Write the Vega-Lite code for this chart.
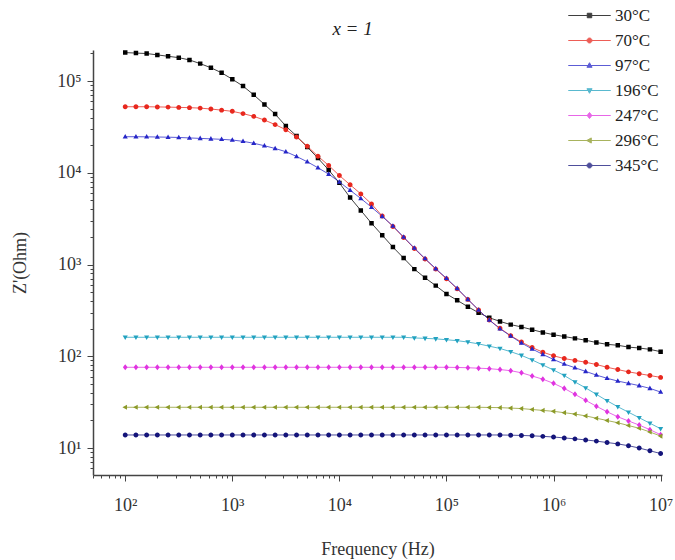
{
  "$schema": "https://vega.github.io/schema/vega-lite/v6.json",
  "width": 569,
  "height": 425,
  "autosize": "none",
  "padding": {"left": 93, "top": 50, "right": 13, "bottom": 85},
  "background": "white",
  "config": {"view": {"stroke": null}, "font": "Liberation Serif"},
  "title": {"text": "x = 1", "frame": "group", "anchor": "middle", "dx": -25, "offset": -32, "fontSize": 19, "font": "Liberation Serif", "fontWeight": "normal", "fontStyle": "italic", "color": "#222"},
  "data": {"values": [
    {"f": 100, "30°C": 204200, "70°C": 52480, "97°C": 24720, "196°C": 161.1, "247°C": 75.86, "296°C": 27.8, "345°C": 13.87},
    {"f": 125.9, "30°C": 201800, "70°C": 52480, "97°C": 24720, "196°C": 161.1, "247°C": 75.86, "296°C": 27.8, "345°C": 13.87},
    {"f": 158.5, "30°C": 199500, "70°C": 52480, "97°C": 24660, "196°C": 161.1, "247°C": 75.86, "296°C": 27.8, "345°C": 13.87},
    {"f": 199.5, "30°C": 192800, "70°C": 52240, "97°C": 24550, "196°C": 161.1, "247°C": 75.86, "296°C": 27.8, "345°C": 13.87},
    {"f": 251.2, "30°C": 186200, "70°C": 52000, "97°C": 24430, "196°C": 161.1, "247°C": 75.86, "296°C": 27.8, "345°C": 13.87},
    {"f": 316.2, "30°C": 179900, "70°C": 51640, "97°C": 24270, "196°C": 161.1, "247°C": 75.86, "296°C": 27.8, "345°C": 13.87},
    {"f": 398.1, "30°C": 169800, "70°C": 51290, "97°C": 23990, "196°C": 161.1, "247°C": 75.86, "296°C": 27.8, "345°C": 13.87},
    {"f": 501.2, "30°C": 154900, "70°C": 50700, "97°C": 23710, "196°C": 161.1, "247°C": 75.86, "296°C": 27.8, "345°C": 13.87},
    {"f": 631, "30°C": 139600, "70°C": 49550, "97°C": 23440, "196°C": 161.1, "247°C": 75.86, "296°C": 27.8, "345°C": 13.87},
    {"f": 794.3, "30°C": 123000, "70°C": 48190, "97°C": 23170, "196°C": 161.1, "247°C": 75.86, "296°C": 27.8, "345°C": 13.87},
    {"f": 1000, "30°C": 104700, "70°C": 46770, "97°C": 22750, "196°C": 161.1, "247°C": 75.86, "296°C": 27.8, "345°C": 13.87},
    {"f": 1259, "30°C": 88100, "70°C": 44160, "97°C": 22030, "196°C": 161.1, "247°C": 75.86, "296°C": 27.8, "345°C": 13.87},
    {"f": 1585, "30°C": 70790, "70°C": 41210, "97°C": 20990, "196°C": 161.1, "247°C": 75.86, "296°C": 27.8, "345°C": 13.87},
    {"f": 1995, "30°C": 55590, "70°C": 37580, "97°C": 19720, "196°C": 161.1, "247°C": 75.86, "296°C": 27.8, "345°C": 13.87},
    {"f": 2512, "30°C": 43650, "70°C": 33500, "97°C": 18410, "196°C": 161.1, "247°C": 75.86, "296°C": 27.8, "345°C": 13.87},
    {"f": 3162, "30°C": 32360, "70°C": 29510, "97°C": 16980, "196°C": 161.1, "247°C": 75.86, "296°C": 27.8, "345°C": 13.87},
    {"f": 3981, "30°C": 25120, "70°C": 24550, "97°C": 15070, "196°C": 161.1, "247°C": 75.86, "296°C": 27.8, "345°C": 13.87},
    {"f": 5012, "30°C": 19050, "70°C": 19500, "97°C": 13180, "196°C": 161.1, "247°C": 75.86, "296°C": 27.8, "345°C": 13.87},
    {"f": 6310, "30°C": 14450, "70°C": 15140, "97°C": 11350, "196°C": 161.1, "247°C": 75.86, "296°C": 27.8, "345°C": 13.87},
    {"f": 7943, "30°C": 10720, "70°C": 12020, "97°C": 9661, "196°C": 161.1, "247°C": 75.86, "296°C": 27.8, "345°C": 13.87},
    {"f": 10000, "30°C": 7762, "70°C": 9333, "97°C": 7943, "196°C": 161.1, "247°C": 75.86, "296°C": 27.8, "345°C": 13.87},
    {"f": 12590, "30°C": 5370, "70°C": 7413, "97°C": 6457, "196°C": 161.1, "247°C": 75.86, "296°C": 27.8, "345°C": 13.87},
    {"f": 15850, "30°C": 3890, "70°C": 5888, "97°C": 5248, "196°C": 161.1, "247°C": 75.86, "296°C": 27.8, "345°C": 13.87},
    {"f": 19950, "30°C": 2818, "70°C": 4571, "97°C": 4217, "196°C": 161.1, "247°C": 75.86, "296°C": 27.8, "345°C": 13.87},
    {"f": 25120, "30°C": 2089, "70°C": 3388, "97°C": 3350, "196°C": 161.1, "247°C": 75.86, "296°C": 27.8, "345°C": 13.87},
    {"f": 31620, "30°C": 1549, "70°C": 2600, "97°C": 2630, "196°C": 161.1, "247°C": 75.86, "296°C": 27.8, "345°C": 13.87},
    {"f": 39810, "30°C": 1175, "70°C": 1972, "97°C": 1995, "196°C": 161.1, "247°C": 75.86, "296°C": 27.8, "345°C": 13.87},
    {"f": 50120, "30°C": 891.3, "70°C": 1496, "97°C": 1514, "196°C": 158.5, "247°C": 75.86, "296°C": 27.8, "345°C": 13.87},
    {"f": 63100, "30°C": 716.1, "70°C": 1148, "97°C": 1161, "196°C": 156.7, "247°C": 75.86, "296°C": 27.8, "345°C": 13.87},
    {"f": 79430, "30°C": 588.8, "70°C": 891.3, "97°C": 901.6, "196°C": 154.9, "247°C": 75.86, "296°C": 27.8, "345°C": 13.87},
    {"f": 100000, "30°C": 478.6, "70°C": 699.8, "97°C": 707.9, "196°C": 151.4, "247°C": 75.86, "296°C": 27.8, "345°C": 13.87},
    {"f": 125900, "30°C": 407.4, "70°C": 543.3, "97°C": 549.5, "196°C": 147.9, "247°C": 75.51, "296°C": 27.8, "345°C": 13.87},
    {"f": 158500, "30°C": 346.7, "70°C": 416.9, "97°C": 416.9, "196°C": 142.9, "247°C": 74.99, "296°C": 27.8, "345°C": 13.87},
    {"f": 199500, "30°C": 298.5, "70°C": 319.9, "97°C": 319.9, "196°C": 136.5, "247°C": 74.13, "296°C": 27.8, "345°C": 13.87},
    {"f": 251200, "30°C": 263.0, "70°C": 248.3, "97°C": 248.3, "196°C": 128.8, "247°C": 73.28, "296°C": 27.67, "345°C": 13.87},
    {"f": 316200, "30°C": 239.9, "70°C": 201.8, "97°C": 199.5, "196°C": 121.6, "247°C": 71.61, "296°C": 27.54, "345°C": 13.87},
    {"f": 398100, "30°C": 221.3, "70°C": 167.9, "97°C": 166.0, "196°C": 112.2, "247°C": 69.66, "296°C": 27.23, "345°C": 13.8},
    {"f": 501200, "30°C": 208.9, "70°C": 142.9, "97°C": 139.6, "196°C": 102.3, "247°C": 66.07, "296°C": 26.92, "345°C": 13.71},
    {"f": 631000, "30°C": 195.0, "70°C": 124.5, "97°C": 120.2, "196°C": 91.2, "247°C": 60.95, "296°C": 26.3, "345°C": 13.58},
    {"f": 794300, "30°C": 182.0, "70°C": 110.9, "97°C": 104.7, "196°C": 80.35, "247°C": 56.23, "296°C": 25.7, "345°C": 13.4},
    {"f": 1000000, "30°C": 171.8, "70°C": 101.2, "97°C": 92.26, "196°C": 70.79, "247°C": 50.7, "296°C": 25.12, "345°C": 13.18},
    {"f": 1259000, "30°C": 164.1, "70°C": 94.41, "97°C": 82.22, "196°C": 61.66, "247°C": 44.67, "296°C": 24.27, "345°C": 12.88},
    {"f": 1585000, "30°C": 156.7, "70°C": 90.16, "97°C": 74.99, "196°C": 52.48, "247°C": 38.46, "296°C": 23.44, "345°C": 12.59},
    {"f": 1995000, "30°C": 149.6, "70°C": 86.1, "97°C": 68.39, "196°C": 45.19, "247°C": 33.11, "296°C": 22.39, "345°C": 12.25},
    {"f": 2512000, "30°C": 141.3, "70°C": 81.28, "97°C": 62.37, "196°C": 38.46, "247°C": 28.51, "296°C": 21.13, "345°C": 11.89},
    {"f": 3162000, "30°C": 134.9, "70°C": 75.86, "97°C": 57.54, "196°C": 32.73, "247°C": 24.83, "296°C": 19.95, "345°C": 11.48},
    {"f": 3981000, "30°C": 131.8, "70°C": 71.61, "97°C": 53.7, "196°C": 28.18, "247°C": 21.88, "296°C": 18.84, "345°C": 11.09},
    {"f": 5012000, "30°C": 125.9, "70°C": 67.61, "97°C": 50.7, "196°C": 24.55, "247°C": 19.72, "296°C": 17.58, "345°C": 10.59},
    {"f": 6310000, "30°C": 123.0, "70°C": 64.57, "97°C": 47.86, "196°C": 21.38, "247°C": 17.78, "296°C": 16.41, "345°C": 10.0},
    {"f": 7943000, "30°C": 118.9, "70°C": 61.66, "97°C": 44.67, "196°C": 18.62, "247°C": 15.85, "296°C": 14.96, "345°C": 9.333},
    {"f": 10000000, "30°C": 112.2, "70°C": 58.88, "97°C": 40.74, "196°C": 16.22, "247°C": 13.96, "296°C": 13.49, "345°C": 8.71}
  ]},
  "transform": [{"fold": ["30°C", "70°C", "97°C", "196°C", "247°C", "296°C", "345°C"], "as": ["T", "Z"]}],
  "encoding": {
    "x": {"field": "f", "type": "quantitative",
      "scale": {"type": "log", "domain": [50, 10300000], "nice": false},
      "axis": {"title": "Frequency (Hz)",
        "values": [50, 60, 70, 80, 90, 100, 200, 300, 400, 500, 600, 700, 800, 900, 1000, 2000, 3000, 4000, 5000, 6000, 7000, 8000, 9000, 10000, 20000, 30000, 40000, 50000, 60000, 70000, 80000, 90000, 100000, 200000, 300000, 400000, 500000, 600000, 700000, 800000, 900000, 1000000, 2000000, 3000000, 4000000, 5000000, 6000000, 7000000, 8000000, 9000000, 10000000],
        "labelExpr": "datum.value == 100 ? '10²' : datum.value == 1000 ? '10³' : datum.value == 10000 ? '10⁴' : datum.value == 100000 ? '10⁵' : datum.value == 1000000 ? '10⁶' : datum.value == 10000000 ? '10⁷' : ''",
        "tickSize": {"condition": {"test": "abs(log(datum.value)/LN10 - round(log(datum.value)/LN10)) < 0.001", "value": 6}, "value": 3},
        "grid": false, "domainColor": "#444", "domainWidth": 1.5, "tickColor": "#444", "tickWidth": 1,
        "labelFont": "Liberation Serif", "labelFontSize": 18, "labelColor": "#333", "labelPadding": 15,
        "labelOverlap": false, "labelFlush": false, "labelBound": false,
        "titleFont": "Liberation Serif", "titleFontSize": 18, "titleFontWeight": "normal", "titleColor": "#333", "titlePadding": 26}
    },
    "y": {"field": "Z", "type": "quantitative",
      "scale": {"type": "log", "domain": [5.08, 218000], "nice": false, "zero": false},
      "axis": {"title": "Z'(Ohm)",
        "values": [6, 7, 8, 9, 10, 20, 30, 40, 50, 60, 70, 80, 90, 100, 200, 300, 400, 500, 600, 700, 800, 900, 1000, 2000, 3000, 4000, 5000, 6000, 7000, 8000, 9000, 10000, 20000, 30000, 40000, 50000, 60000, 70000, 80000, 90000, 100000, 200000],
        "labelExpr": "datum.value == 10 ? '10¹' : datum.value == 100 ? '10²' : datum.value == 1000 ? '10³' : datum.value == 10000 ? '10⁴' : datum.value == 100000 ? '10⁵' : ''",
        "tickSize": {"condition": {"test": "abs(log(datum.value)/LN10 - round(log(datum.value)/LN10)) < 0.001", "value": 6}, "value": 3},
        "grid": false, "domainColor": "#444", "domainWidth": 1.5, "tickColor": "#444", "tickWidth": 1,
        "labelFont": "Liberation Serif", "labelFontSize": 18, "labelColor": "#333", "labelPadding": 6,
        "labelOverlap": false, "labelBound": false, "labelFlush": false,
        "titleFont": "Liberation Serif", "titleFontSize": 18, "titleFontWeight": "normal", "titleColor": "#333", "titlePadding": 27}
    }
  },
  "layer": [
    {"mark": {"type": "line", "strokeWidth": 1, "opacity": 0.75},
     "encoding": {
       "color": {"field": "T", "type": "nominal",
         "scale": {"domain": ["30°C", "70°C", "97°C", "196°C", "247°C", "296°C", "345°C"], "range": ["#000000", "#e8281e", "#2626c8", "#22a2c0", "#e034e0", "#8c9a28", "#14147a"]},
         "legend": {"orient": "none", "legendX": 488, "legendY": -43, "title": null,
           "symbolSize": 20, "symbolStrokeWidth": 1,
           "symbolFillColor": {"expr": "scale('color', datum.value)"},
           "labelFont": "Liberation Serif", "labelFontSize": 17, "labelColor": "#222", "labelOffset": 17, "rowPadding": 7}
       }
     }
    },
    {"mark": {"type": "point", "filled": true, "size": 20, "opacity": 1},
     "encoding": {
       "color": {"field": "T", "type": "nominal",
         "scale": {"domain": ["30°C", "70°C", "97°C", "196°C", "247°C", "296°C", "345°C"], "range": ["#000000", "#e8281e", "#2626c8", "#22a2c0", "#e034e0", "#8c9a28", "#14147a"]},
         "legend": null},
       "shape": {"field": "T", "type": "nominal",
         "scale": {"domain": ["30°C", "70°C", "97°C", "196°C", "247°C", "296°C", "345°C"],
           "range": ["M-9.5,0H9.5M-1,-1H1V1H-1Z", "M-9.5,0H9.5M-1.1,0A1.1,1.1 0 1,0 1.1,0A1.1,1.1 0 1,0 -1.1,0Z", "M-9.5,0H9.5M0,-1.25L1.15,0.8L-1.15,0.8Z", "M-9.5,0H9.5M0,1.25L1.15,-0.8L-1.15,-0.8Z", "M-9.5,0H9.5M0,-1.35L1.05,0L0,1.35L-1.05,0Z", "M-9.5,0H9.5M-1.25,0L0.8,-1.15L0.8,1.15Z", "M-9.5,0H9.5M-1.1,0A1.1,1.1 0 1,0 1.1,0A1.1,1.1 0 1,0 -1.1,0Z"]},
         "legend": null}
     }
    }
  ]
}
